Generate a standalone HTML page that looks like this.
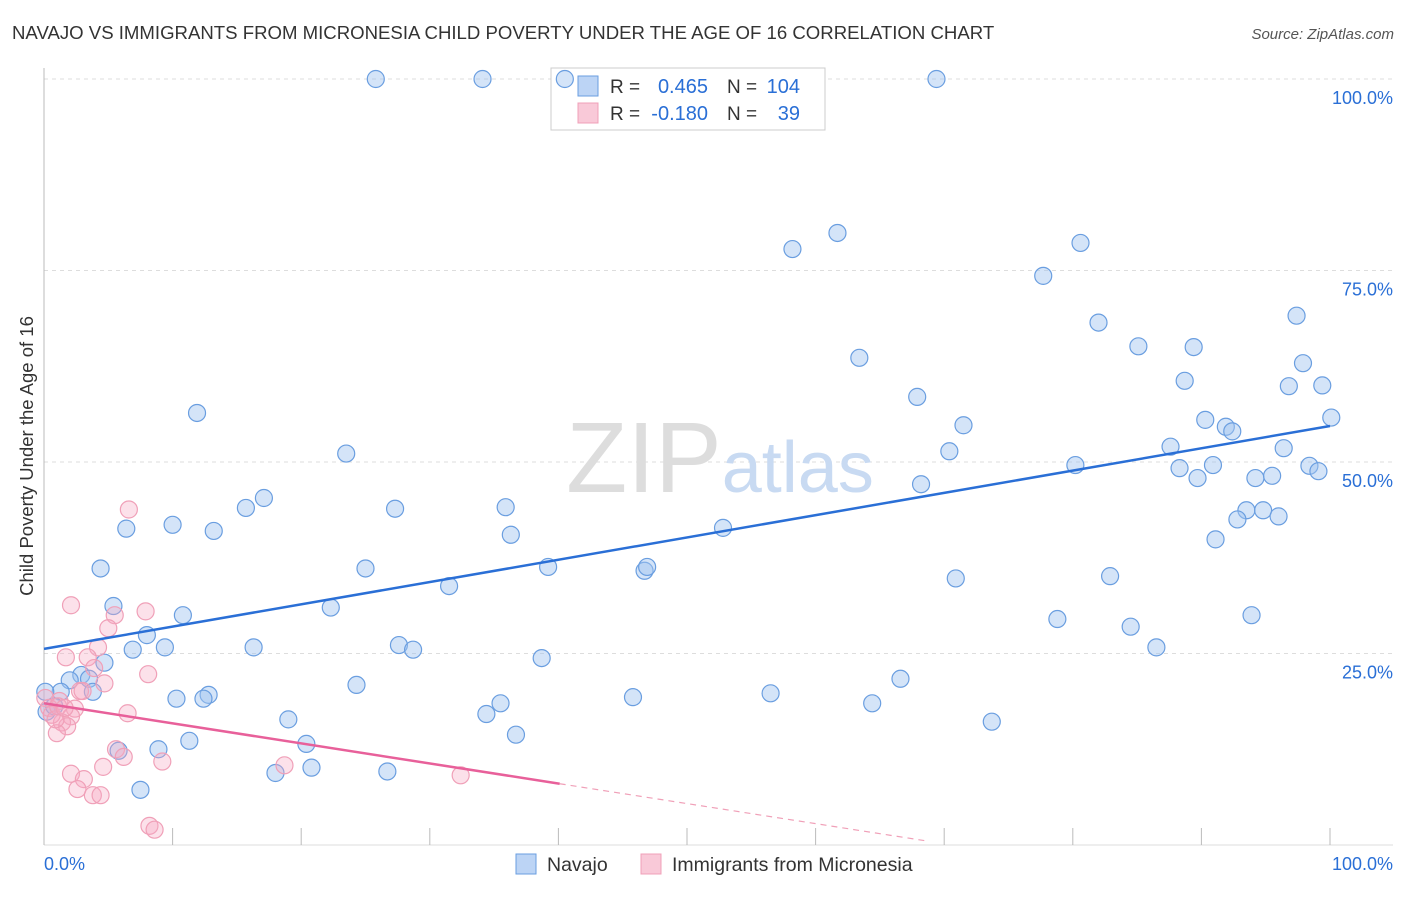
<!DOCTYPE html>
<html><head><meta charset="utf-8"><style>
body{margin:0;background:#fff;font-family:"Liberation Sans",sans-serif;}
svg text{font-family:"Liberation Sans",sans-serif;}
</style></head><body>
<svg id="chart" width="1406" height="892" xmlns="http://www.w3.org/2000/svg">
<text x="12" y="39" font-size="18.6" fill="#333">NAVAJO VS IMMIGRANTS FROM MICRONESIA CHILD POVERTY UNDER THE AGE OF 16 CORRELATION CHART</text>
<text x="1394" y="39" font-size="15" fill="#555" text-anchor="end" font-style="italic">Source: ZipAtlas.com</text>
<text transform="translate(33,456) rotate(-90)" font-size="18.5" fill="#333" text-anchor="middle">Child Poverty Under the Age of 16</text>
<g id="grid"></g>
<text x="720" y="492" font-size="100" text-anchor="middle" fill="#ddd" font-family="Liberation Serif">ZIP<tspan fill="#c8daf2" font-family="Liberation Sans" font-size="72">atlas</tspan></text>
<g>
<rect x="551" y="68" width="274" height="62" fill="#fff" stroke="#ccc"/>
<rect x="578" y="76" width="20" height="20" fill="#bcd4f5" stroke="#6a9ee0"/>
<rect x="578" y="103" width="20" height="20" fill="#f9c9d8" stroke="#f0a0b8"/>
<text x="610" y="93" font-size="19" fill="#333">R =</text>
<text x="708" y="93" font-size="20" fill="#2a6fd6" text-anchor="end">0.465</text>
<text x="727" y="93" font-size="19" fill="#333">N =</text>
<text x="800" y="93" font-size="20" fill="#2a6fd6" text-anchor="end">104</text>
<text x="610" y="120" font-size="19" fill="#333">R =</text>
<text x="708" y="120" font-size="20" fill="#2a6fd6" text-anchor="end">-0.180</text>
<text x="727" y="120" font-size="19" fill="#333">N =</text>
<text x="800" y="120" font-size="20" fill="#2a6fd6" text-anchor="end">39</text>
</g>
<g id="marks"></g>
<g>
<rect x="516" y="854" width="20" height="20" fill="#bcd4f5" stroke="#6a9ee0"/>
<text x="547" y="871" font-size="19.5" fill="#333">Navajo</text>
<rect x="641" y="854" width="20" height="20" fill="#f9c9d8" stroke="#f0a0b8"/>
<text x="672" y="871" font-size="19.5" fill="#333">Immigrants from Micronesia</text>
</g>
</svg>
<script>
const blueX=[25.8,34.1,40.5,69.4,61.7,58.2,80.6,77.7,82,97.4,63.4,85.1,89.4,97.9,88.7,67.9,11.9,99.4,96.8,100.1,90.3,91.9,92.4,71.5,70.4,87.6,96.4,23.5,80.2,88.3,90.9,98.4,99.1,94.2,95.5,89.7,68.2,17.1,15.7,27.3,35.9,93.5,94.8,96,92.8,10.0,6.4,36.3,13.2,52.8,91.1,4.4,25,39.2,46.7,46.9,70.9,82.9,31.5,5.4,22.3,10.8,93.9,78.8,84.5,8,27.6,28.7,86.5,16.3,6.9,9.4,38.7,4.7,2.9,3.5,2,1.3,3.8,12.8,12.4,10.3,0.1,0.2,0.8,45.8,56.5,66.6,24.3,35.5,34.4,64.4,19,73.7,36.7,20.4,11.3,8.9,5.8,20.8,26.7,18,7.5];
const blueY=[100,100,100,100,79.9,77.8,78.6,74.3,68.2,69.1,63.6,65.1,65,62.9,60.6,58.5,56.4,60,59.9,55.8,55.5,54.6,54,54.8,51.4,52,51.8,51.1,49.6,49.2,49.6,49.5,48.8,47.9,48.2,47.9,47.1,45.3,44,43.9,44.1,43.7,43.7,42.9,42.5,41.8,41.3,40.5,41,41.4,39.9,36.1,36.1,36.3,35.8,36.3,34.8,35.1,33.8,31.2,31,30,30,29.5,28.5,27.4,26.1,25.5,25.8,25.8,25.5,25.8,24.4,23.8,22.2,21.7,21.5,20,20,19.6,19.1,19.1,20,17.4,18.1,19.3,19.8,21.7,20.9,18.5,17.1,18.5,16.4,16.1,14.4,13.2,13.6,12.5,12.3,10.1,9.6,9.4,7.2];
const pinkX=[6.6,2.1,7.9,5.5,5,4.2,1.7,3.4,8.1,3.9,2.8,4.7,3,1.2,2.4,6.5,2.1,1.4,1.8,1,0.1,0.4,0.6,0.9,5.6,6.2,4.6,18.7,32.4,2.1,3.1,9.2,2.6,3.8,4.4,8.2,8.6,1.1,1.6];
const pinkY=[43.8,31.3,30.5,30,28.3,25.8,24.5,24.5,22.3,23.1,20.1,21.1,20.1,18.8,17.8,17.2,16.8,16,15.5,14.6,19.2,17.9,17,16.4,12.5,11.5,10.2,10.4,9.1,9.3,8.6,10.9,7.3,6.5,6.5,2.5,2,18.1,17.9];
const blueTrend=[25.6,54.7];
const pinkTrend=[18.5,8.0];
const pinkSolidEnd=40.1, pinkDashEnd=68.5;
const yTicks=[25,50,75,100];
const xTickVals=[0,10,20,30,40,50,60,70,80,90,100];
const X=v=>44+v*12.86, Y=v=>845-v*7.66;
const NS="http://www.w3.org/2000/svg";
const grid=document.getElementById('grid'), marks=document.getElementById('marks');
function mk(tag,attrs,parent){const e=document.createElementNS(NS,tag);for(const k in attrs)e.setAttribute(k,attrs[k]);parent.appendChild(e);return e;}
yTicks.forEach(t=>{
 const l=mk('line',{x1:44,x2:1393,y1:Y(t),y2:Y(t),stroke:'#ddd','stroke-dasharray':'4,4'},grid);
 
 
 const tx=mk('text',{x:1393,y:Y(t)+25,'font-size':18,fill:'#2a6fd6','text-anchor':'end'},grid);tx.textContent=t.toFixed(1)+'%';
 
 
});
const ax=mk('line',{x1:44,x2:44,y1:68,y2:845,stroke:'#bbb'},grid);


const bx=mk('line',{x1:44,x2:1393,y1:845,y2:845,stroke:'#ddd'},grid);


xTickVals.forEach(t=>{const l=mk('line',{x1:X(t),x2:X(t),y1:828,y2:845,stroke:'#bbb'},grid);
 
 });
[[0,'start',44],[100,'end',1393]].forEach(([v,a,px])=>{const t=mk('text',{x:px,y:870,'font-size':18,fill:'#2a6fd6','text-anchor':a},grid);t.textContent=v.toFixed(1)+'%';
 
 });
blueX.forEach((v,i)=>{const c=mk('circle',{cx:X(v),cy:Y(blueY[i]),r:8.5,fill:'rgba(160,196,240,0.45)',stroke:'#6a9ee0','stroke-width':1.2},marks);
 
 });
pinkX.forEach((v,i)=>{const c=mk('circle',{cx:X(v),cy:Y(pinkY[i]),r:8.5,fill:'rgba(245,170,195,0.35)',stroke:'#f0a0b8','stroke-width':1.2},marks);
 
 });
const pf=x=>pinkTrend[0]+(pinkTrend[1]-pinkTrend[0])*x/pinkSolidEnd;
const bl=mk('line',{x1:X(0),y1:Y(blueTrend[0]),x2:X(100),y2:Y(blueTrend[1]),stroke:'#2a6fd6','stroke-width':2.5},marks);


const pl=mk('line',{x1:X(0),y1:Y(pf(0)),x2:X(pinkSolidEnd),y2:Y(pf(pinkSolidEnd)),stroke:'#e8609a','stroke-width':2.5},marks);


const pd=mk('line',{x1:X(pinkSolidEnd),y1:Y(pf(pinkSolidEnd)),x2:X(pinkDashEnd),y2:Y(pf(pinkDashEnd)),stroke:'#f0a0b8','stroke-width':1.2,'stroke-dasharray':'6,5'},marks);


</script>
</body></html>
